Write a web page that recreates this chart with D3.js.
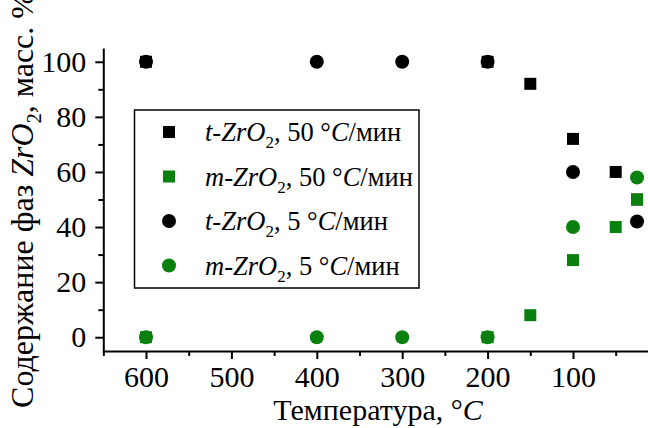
<!DOCTYPE html>
<html lang="ru">
<head>
  <meta charset="UTF-8">
  <title>Содержание фаз ZrO2</title>
  <script src="https://d3js.org/d3.v7.min.js"></script>
  <style>
    body {
      margin: 0;
      background-color: #ffffff;
    }
    svg text {
      font-family: "Liberation Serif", "Times New Roman", serif;
      fill: #000;
    }
  </style>
</head>
<body>
  <svg id="chart" width="648" height="428"></svg>

  <script>
    // 50 °C/min series
    const temps50 = [600, 200, 150, 100, 50, 25];
    const tZrO2_50 = [100, 100, 92, 72, 60, 50];
    const mZrO2_50 = [0, 0, 8, 28, 40, 50];

    // 5 °C/min series
    const temps5 = [600, 400, 300, 200, 100, 25];
    const tZrO2_5 = [100, 100, 100, 100, 60, 42];
    const mZrO2_5 = [0, 0, 0, 0, 40, 58];

    const xTicks = [600, 500, 400, 300, 200, 100];
    const xMinor = [650, 550, 450, 350, 250, 150, 50];
    const yTicks = [0, 20, 40, 60, 80, 100];
    const yMinor = [10, 30, 50, 70, 90];

    const green = "#0a800f";

    const series = [
      { phase: "t", rate: "50", temps: temps50, values: tZrO2_50, shape: "square", color: "#000" },
      { phase: "m", rate: "50", temps: temps50, values: mZrO2_50, shape: "square", color: green },
      { phase: "t", rate: "5", temps: temps5, values: tZrO2_5, shape: "circle", color: "#000" },
      { phase: "m", rate: "5", temps: temps5, values: mZrO2_5, shape: "circle", color: green }
    ];

    const svg = d3.select("#chart");

    const x = d3.scaleLinear().domain([650, 0]).range([103.3, 658.4]);
    const y = d3.scaleLinear().domain([-5, 105]).range([351, 48]);

    // axes (major + minor ticks)
    svg.append("g")
      .attr("transform", `translate(0, ${y(-5)})`)
      .call(d3.axisBottom(x).tickValues(xTicks).tickSize(8).tickSizeOuter(0).tickPadding(7));
    svg.append("g")
      .attr("transform", `translate(0, ${y(-5)})`)
      .call(d3.axisBottom(x).tickValues(xMinor).tickSize(5).tickSizeOuter(0).tickFormat(""))
      .select(".domain").remove();

    svg.append("g")
      .attr("transform", `translate(${x(650)}, 0)`)
      .call(d3.axisLeft(y).tickValues(yTicks).tickSize(8).tickSizeOuter(0).tickPadding(9));
    svg.append("g")
      .attr("transform", `translate(${x(650)}, 0)`)
      .call(d3.axisLeft(y).tickValues(yMinor).tickSize(5).tickSizeOuter(0).tickFormat(""))
      .select(".domain").remove();

    svg.selectAll(".domain").attr("stroke", "#000").attr("stroke-width", 2);
    svg.selectAll(".tick line").attr("stroke", "#000").attr("stroke-width", 2);
    svg.selectAll(".tick text")
      .style("font-family", "'Liberation Serif', 'Times New Roman', serif")
      .style("font-size", "30px")
      .attr("fill", "#000");

    // markers
    function drawMarker(g, shape, cx, cy, color) {
      if (shape === "square") {
        g.append("rect")
          .attr("x", cx - 6).attr("y", cy - 6)
          .attr("width", 12).attr("height", 12)
          .attr("fill", color);
      } else {
        g.append("circle")
          .attr("cx", cx).attr("cy", cy).attr("r", 7)
          .attr("fill", color);
      }
    }

    const plot = svg.append("g");
    series.forEach((s) => {
      s.temps.forEach((t, i) => {
        drawMarker(plot, s.shape, x(t), y(s.values[i]), s.color);
      });
    });

    // legend
    const legend = svg.append("g");
    legend.append("rect")
      .attr("x", 134.5).attr("y", 110)
      .attr("width", 284.5).attr("height", 178)
      .attr("fill", "#fff")
      .attr("stroke", "#000")
      .attr("stroke-width", 1.5);

    series.forEach((s, i) => {
      const ry = 132 + i * 44.5;
      drawMarker(legend, s.shape, 169, ry, s.color);
      const txt = legend.append("text")
        .attr("x", 205)
        .attr("y", ry + 9)
        .style("font-size", "26.5px");
      txt.append("tspan").style("font-style", "italic").text(`${s.phase}-ZrO`);
      txt.append("tspan").attr("dy", 7).style("font-size", "17px").text("2");
      txt.append("tspan").attr("dy", -7).text(`, ${s.rate} °`);
      txt.append("tspan").style("font-style", "italic").text("C");
      txt.append("tspan").text("/мин");
    });

    // axis titles
    const xTitle = svg.append("text")
      .attr("x", 378)
      .attr("y", 420)
      .attr("text-anchor", "middle")
      .style("font-size", "30px");
    xTitle.append("tspan").text("Температура, °");
    xTitle.append("tspan").style("font-style", "italic").text("C");

    const yTitle = svg.append("text")
      .attr("transform", "translate(33, 200) rotate(-90)")
      .attr("text-anchor", "middle")
      .style("font-size", "32px");
    yTitle.append("tspan").text("Содержание фаз ");
    yTitle.append("tspan").style("font-style", "italic").text("ZrO");
    yTitle.append("tspan").attr("dy", 8).style("font-size", "20px").text("2");
    yTitle.append("tspan").attr("dy", -8).text(", масс. %");
  </script>
</body>
</html>
